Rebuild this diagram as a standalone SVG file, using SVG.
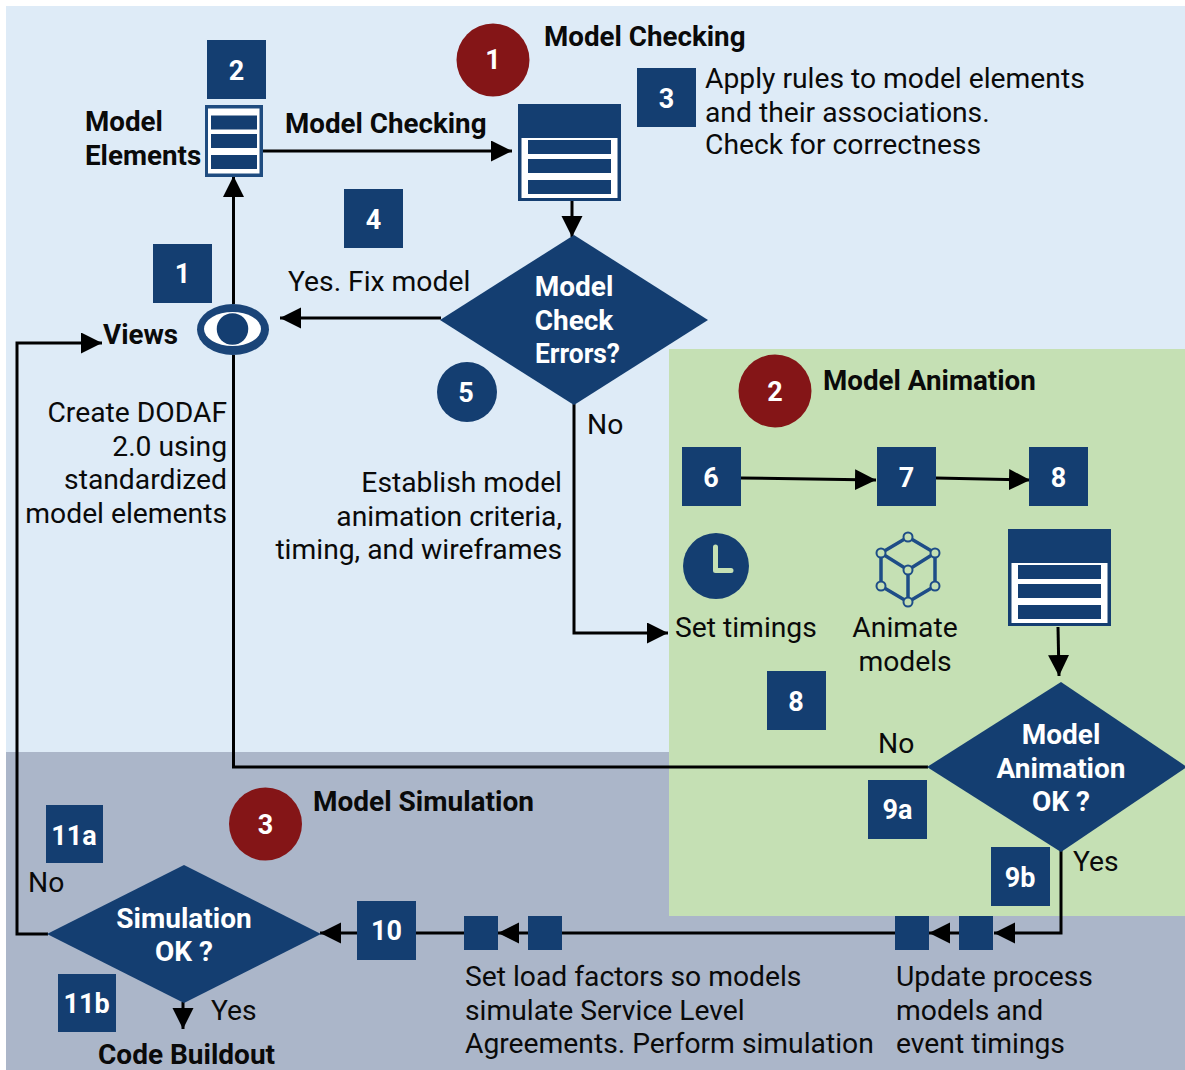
<svg xmlns="http://www.w3.org/2000/svg" width="1185" height="1070" viewBox="0 0 1185 1070">
<style>
text{font-family:Roboto,"Liberation Sans",sans-serif;font-size:28.25px;fill:#0a0a0a}
.b{font-weight:700;font-size:27.75px}
.b2{font-weight:700;font-size:28px}
.n{font-weight:700;fill:#fff;font-size:27px;text-anchor:middle}
.d{font-weight:700;fill:#fff;font-size:28px;text-anchor:middle}
.e{text-anchor:end}.m{text-anchor:middle}
.sq{fill:#143e71}
.c{fill:#841517}
.w{fill:none;stroke:#000;stroke-width:3}
</style>
<defs>
<marker id="a" markerUnits="userSpaceOnUse" markerWidth="22" markerHeight="22" refX="21" refY="10.5" orient="auto"><path d="M0 0L21 10.5L0 21Z" fill="#000"/></marker>
<g id="list"><rect x="0" y="0" width="103" height="97" fill="#143e71"/><rect x="3.500" y="34" width="96" height="60" fill="#fff"/><rect x="10" y="36" width="83" height="14" fill="#143e71"/><rect x="10" y="55" width="83" height="14" fill="#143e71"/><rect x="10" y="76" width="83" height="14" fill="#143e71"/></g>
</defs>
<rect width="1185" height="1070" fill="#fff"/>
<rect x="6" y="6" width="1179" height="746" fill="#deebf7"/>
<rect x="6" y="752" width="1179" height="318" fill="#abb6c9"/>
<rect x="669" y="349" width="516" height="567" fill="#c5e0b4"/>
<g id="connectors">
<path class="w" d="M263 151H512" marker-end="url(#a)"/>
<path class="w" d="M572 201V237" marker-end="url(#a)"/>
<path class="w" d="M441 318H280" marker-end="url(#a)"/>
<path class="w" d="M233.500 304V176" marker-end="url(#a)"/>
<path class="w" d="M574 404V633H668" marker-end="url(#a)"/>
<path class="w" d="M741 478L876 480" marker-end="url(#a)"/>
<path class="w" d="M936 478L1030 480" marker-end="url(#a)"/>
<path class="w" d="M1058 627L1059 676" marker-end="url(#a)"/>
<path class="w" d="M928 767H233.500V355"/>
<path class="w" d="M1061 850V933H994" marker-end="url(#a)"/>
<path class="w" d="M959 933H929" marker-end="url(#a)"/>
<path class="w" d="M895 933H498" marker-end="url(#a)"/>
<path class="w" d="M464 933H320" marker-end="url(#a)"/>
<path class="w" d="M48 934H17V343H102" marker-end="url(#a)"/>
<path class="w" d="M183 1002V1029" marker-end="url(#a)"/>
</g>
<g id="area-labels">
<text class="b" x="544" y="46">Model Checking</text>
<text class="b" x="823" y="390">Model Animation</text>
<text class="b2" x="313" y="811">Model Simulation</text>
</g>
<g id="badge-1"><circle class="c" cx="493" cy="60" r="36.500"/><text class="n" x="493" y="69">1</text></g>
<g id="badge-2"><circle class="c" cx="775" cy="391" r="36.500"/><text class="n" x="775" y="401">2</text></g>
<g id="badge-3"><circle class="c" cx="265.500" cy="824" r="36.500"/><text class="n" x="265.500" y="834">3</text></g>
<g id="step-1"><rect class="sq" x="153" y="244" width="59" height="59"/><text class="n" x="182.500" y="283">1</text></g>
<g id="step-2"><rect class="sq" x="207" y="40" width="59" height="59"/><text class="n" x="236.500" y="80">2</text></g>
<g id="step-3"><rect class="sq" x="637" y="68" width="59" height="59"/><text class="n" x="666.500" y="108">3</text></g>
<g id="step-4"><rect class="sq" x="344" y="189" width="59" height="59"/><text class="n" x="373.500" y="229">4</text></g>
<g id="step-5"><circle class="sq" cx="467" cy="392" r="30"/><text class="n" x="466" y="402">5</text></g>
<g id="step-6"><rect class="sq" x="682" y="447" width="59" height="59"/><text class="n" x="711" y="487">6</text></g>
<g id="step-7"><rect class="sq" x="877" y="447" width="59" height="59"/><text class="n" x="906.500" y="487">7</text></g>
<g id="step-8a"><rect class="sq" x="1029" y="447" width="59" height="59"/><text class="n" x="1058.500" y="487">8</text></g>
<g id="step-8b"><rect class="sq" x="767" y="671" width="59" height="59"/><text class="n" x="796" y="711">8</text></g>
<g id="step-9a"><rect class="sq" x="868" y="780" width="59" height="59"/><text class="n" x="897.500" y="819">9a</text></g>
<g id="step-9b"><rect class="sq" x="991" y="847" width="59" height="59"/><text class="n" x="1020" y="887">9b</text></g>
<g id="step-10"><rect class="sq" x="357" y="901" width="59" height="59"/><text class="n" x="386.500" y="940">10</text></g>
<g id="step-11a"><rect class="sq" x="46" y="805" width="57" height="58"/><text class="n" x="74" y="845">11a</text></g>
<g id="step-11b"><rect class="sq" x="58" y="974" width="58" height="58"/><text class="n" x="86.500" y="1013">11b</text></g>
<g id="model-elements">
<rect x="205" y="105" width="58" height="72" fill="#1f4c80"/><rect x="208" y="108.500" width="51.500" height="65" fill="#fff"/>
<rect x="211" y="115.500" width="46" height="14" fill="#143e71"/><rect x="211" y="134" width="46" height="14" fill="#143e71"/><rect x="211" y="155" width="46" height="14" fill="#143e71"/>
<text class="b" x="85" y="131">Model</text><text class="b" x="85" y="165">Elements</text>
</g>
<g id="model-check-label"><text class="b" x="285" y="133">Model Checking</text></g>
<g id="list-check"><use href="#list" x="518" y="104"/></g>
<g id="rules-text"><text x="705" y="88">Apply rules to model elements</text><text x="705" y="122">and their associations.</text><text x="705" y="154">Check for correctness</text></g>
<g id="decision-check"><path class="sq" d="M574 235L708 320L574 405L440 320Z"/><text class="d" x="574" y="296">Model</text><text class="d" x="574" y="330">Check</text><text class="d" x="577.500" y="363" textLength="85" lengthAdjust="spacingAndGlyphs">Errors?</text></g>
<g id="yes-fix"><text x="288" y="291">Yes. Fix model</text></g>
<g id="views"><ellipse cx="233" cy="329.500" rx="36" ry="25.500" fill="#1a4478"/><ellipse cx="232.500" cy="329" rx="28.500" ry="17" fill="#fff"/><circle class="sq" cx="232.500" cy="329" r="15.750"/><text class="b" x="103" y="344">Views</text></g>
<g id="dodaf-text"><text class="e" x="227" y="422">Create DODAF</text><text class="e" x="227" y="456">2.0 using</text><text class="e" x="227" y="489">standardized</text><text class="e" x="227" y="523">model elements</text></g>
<g id="no-check"><text x="587" y="434">No</text></g>
<g id="criteria-text"><text class="e" x="562" y="492">Establish model</text><text class="e" x="562" y="526">animation criteria,</text><text class="e" x="562" y="559">timing, and wireframes</text></g>
<g id="clock"><circle class="sq" cx="716" cy="566" r="33"/><path d="M715.500 547V570.500H731" fill="none" stroke="#c5e0b4" stroke-width="5" stroke-linecap="round" stroke-linejoin="round"/><text x="675" y="637">Set timings</text></g>
<g id="cube"><path d="M908 537L935 553V586L908 602L881 586V553ZM881 553L908 570L935 553M908 570V602" fill="none" stroke="#1e4d87" stroke-width="3.500"/>
<g fill="#c5e0b4" stroke="#1e4d87" stroke-width="2"><circle cx="908" cy="537" r="4.500"/><circle cx="935" cy="553" r="4.500"/><circle cx="935" cy="586" r="4.500"/><circle cx="908" cy="602" r="4.500"/><circle cx="881" cy="586" r="4.500"/><circle cx="881" cy="553" r="4.500"/><circle cx="908" cy="570" r="4.500"/></g>
<text class="m" x="905" y="637">Animate</text><text class="m" x="905" y="671">models</text></g>
<g id="list-animate"><use href="#list" x="1008" y="529"/></g>
<g id="decision-animation"><path class="sq" d="M1061 682L1187 767L1061 852L927 767Z"/><text class="d" x="1061" y="744">Model</text><text class="d" x="1061" y="778">Animation</text><text class="d" x="1061" y="811">OK ?</text></g>
<g id="no-animation"><text x="878" y="753">No</text></g>
<g id="yes-animation"><text x="1073" y="871">Yes</text></g>
<g id="small-boxes"><rect class="sq" x="895" y="916" width="34" height="34"/><rect class="sq" x="959" y="916" width="34" height="34"/><rect class="sq" x="464" y="916" width="34" height="34"/><rect class="sq" x="528" y="916" width="34" height="34"/></g>
<g id="update-text"><text x="896" y="986">Update process</text><text x="896" y="1020">models and</text><text x="896" y="1053">event timings</text></g>
<g id="load-text"><text x="465" y="986">Set load factors so models</text><text x="465" y="1020">simulate Service Level</text><text x="465" y="1053">Agreements. Perform simulation</text></g>
<g id="decision-sim"><path class="sq" d="M184 865L321 934L184 1003L47 934Z"/><text class="d" x="184" y="928">Simulation</text><text class="d" x="184" y="961">OK ?</text></g>
<g id="no-sim"><text x="28" y="892">No</text></g>
<g id="yes-sim"><text x="211" y="1020">Yes</text></g>
<g id="code-buildout"><text class="b2" x="98" y="1064">Code Buildout</text></g>
</svg>
